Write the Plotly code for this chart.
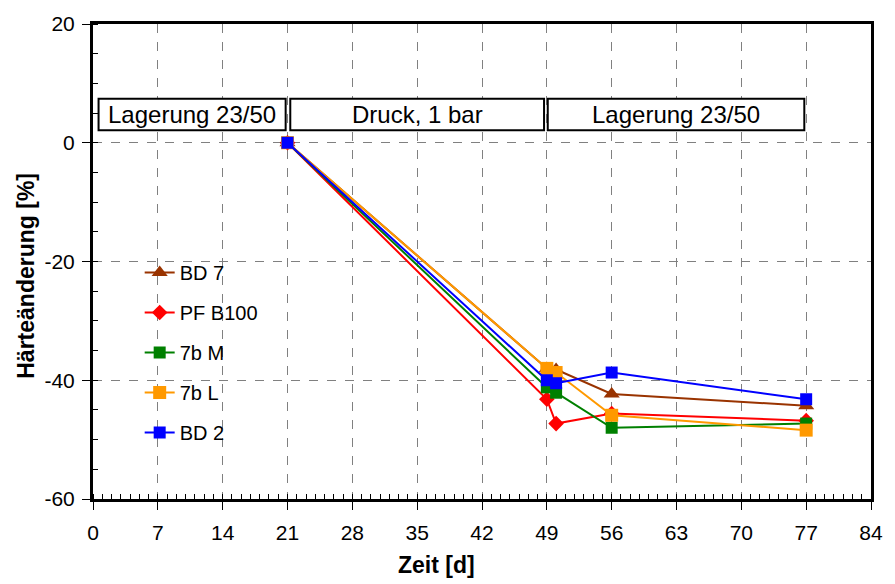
import plotly.graph_objects as go

# Measurement days and hardness change per sample
days = [21, 49, 50, 56, 77]
bd7 = [0, -38.0, -38.2, -42.3, -44.3]
pf_b100 = [0, -43.2, -47.3, -45.6, -46.8]
b7_m = [0, -41.2, -42.1, -48.0, -47.3]
b7_l = [0, -38.0, -38.7, -45.9, -48.4]
bd2 = [0, -40.0, -40.5, -38.7, -43.2]

series_names = ["BD 7", "PF B100", "7b M", "7b L", "BD 2"]
series_values = [bd7, pf_b100, b7_m, b7_l, bd2]
series_colors = ["#993300", "#FF0000", "#008000", "#FF9900", "#0000FF"]
series_symbols = ["triangle-up", "diamond", "square", "square", "square"]
marker_sizes = [14, 12, 12, 13, 12]

# Storage phases shown as labelled boxes above the curves
phase_labels = ["Lagerung 23/50", "Druck, 1 bar", "Lagerung 23/50"]
phase_start = [0.6, 21.3, 49.1]
phase_end = [20.8, 48.7, 76.8]
phase_low, phase_high = 2.1, 7.4

x_ticks = list(range(0, 85, 7))
y_ticks = [-60, -40, -20, 0, 20]

FONT = "Liberation Sans, Arial, sans-serif"

fig = go.Figure()
for name, vals, col, sym, ms in zip(series_names, series_values, series_colors,
                                    series_symbols, marker_sizes):
    fig.add_trace(go.Scatter(
        x=days, y=vals, name=name, mode="lines+markers",
        line=dict(color=col, width=2),
        marker=dict(symbol=sym, size=ms, color=col, line=dict(width=0)),
        legendgroup=name,
    ))

for lab, x0, x1 in zip(phase_labels, phase_start, phase_end):
    fig.add_shape(type="rect", xref="x", yref="y", x0=x0, x1=x1,
                  y0=phase_low, y1=phase_high,
                  line=dict(color="black", width=2), fillcolor="white",
                  layer="above")
    fig.add_annotation(x=(x0 + x1) / 2, y=(phase_low + phase_high) / 2,
                       xref="x", yref="y", text=lab, showarrow=False,
                       font=dict(family=FONT, size=24, color="black"))

# Axis titles
fig.add_annotation(x=0.441, y=0, xref="paper", yref="paper",
                   xanchor="center", yanchor="middle", yshift=-66,
                   text="<b>Zeit [d]</b>", showarrow=False,
                   font=dict(family=FONT, size=23, color="black"))
fig.add_annotation(x=0, y=0.47, xref="paper", yref="paper",
                   xanchor="center", yanchor="middle", xshift=-67,
                   text="<b>Härteänderung [%]</b>", showarrow=False,
                   textangle=-90,
                   font=dict(family=FONT, size=23, color="black"))

fig.update_xaxes(
    range=[0, 84], tickvals=x_ticks, ticktext=[str(v) for v in x_ticks],
    showline=True, linewidth=3, linecolor="black", mirror=True,
    ticks="outside", ticklen=8, tickwidth=1, tickcolor="black",
    ticklabelstandoff=5,
    minor=dict(dtick=1, ticks="inside", ticklen=5, tickwidth=1,
               tickcolor="black", showgrid=False),
    showgrid=True, gridcolor="#808080", gridwidth=1, griddash="dash",
    zeroline=False,
    tickfont=dict(family=FONT, size=21, color="black"),
)
fig.update_yaxes(
    range=[-60, 20], tickvals=y_ticks, ticktext=[str(v) for v in y_ticks],
    showline=True, linewidth=3, linecolor="black", mirror=True,
    ticks="outside", ticklen=8, tickwidth=1, tickcolor="black",
    ticklabelstandoff=3,
    minor=dict(dtick=5, ticks="inside", ticklen=5, tickwidth=1,
               tickcolor="black", showgrid=False),
    showgrid=True, gridcolor="#808080", gridwidth=1, griddash="dash",
    zeroline=False,
    tickfont=dict(family=FONT, size=21, color="black"),
)

fig.update_layout(
    width=895, height=584,
    margin=dict(l=93, r=15, t=20, b=85),
    paper_bgcolor="white", plot_bgcolor="white",
    showlegend=True,
    legend=dict(x=0.06, y=0.518, xanchor="left", yanchor="top",
                bgcolor="rgba(0,0,0,0)", borderwidth=0,
                tracegroupgap=11,
                font=dict(family=FONT, size=20, color="black")),
)

fig.write_html("out.html")
